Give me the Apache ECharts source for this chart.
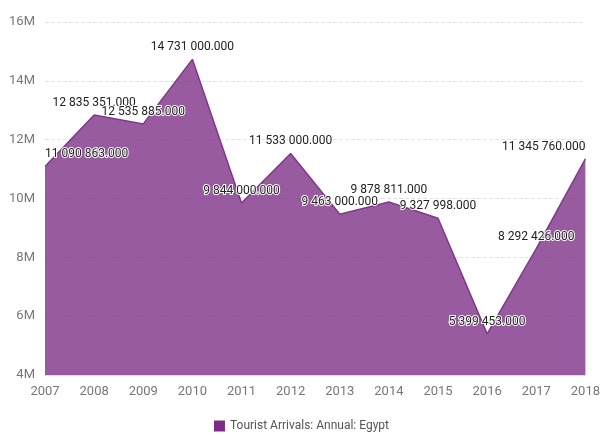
<!DOCTYPE html>
<html>
<head>
<meta charset="utf-8">
<script src="https://cdn.jsdelivr.net/npm/echarts@6/dist/echarts.min.js"></script>
<style>
  html, body { margin: 0; padding: 0; background: #fff; }
  #main { width: 603px; height: 437px; }
</style>
</head>
<body>
<div id="main"></div>
<script>
// Tourist arrivals, Egypt
var years = ['2007', '2008', '2009', '2010', '2011', '2012', '2013', '2014', '2015', '2016', '2017', '2018'];
var arrivals = [11090863, 12835351, 12535885, 14731000, 9844000, 11533000, 9463000, 9878811, 9327998, 5399453, 8292426, 11345760];
var seriesName = 'Tourist Arrivals: Annual: Egypt';

var font = 'Roboto, sans-serif';

function fmtValue(v) {
    var s = Math.round(v).toString();
    s = s.replace(/\B(?=(\d{3})+(?!\d))/g, ' ');
    return s + '.000';
}

// first and last labels are pushed inside the plot
var seriesData = arrivals.map(function (v, i) {
    var item = { value: v };
    if (i === 0) {
        item.label = { align: 'left', offset: [-4, 0] };
    } else if (i === arrivals.length - 1) {
        item.label = { align: 'right', offset: [10, 0] };
    }
    return item;
});

var myChart = echarts.init(document.getElementById('main'));

var option = {
    animation: false,
    grid: {
        left: 45,
        right: 10,
        top: 22,
        bottom: 62
    },
    legend: {
        bottom: 0,
        left: 'center',
        itemWidth: 11,
        itemHeight: 11,
        itemGap: 5,
        icon: 'rect',
        textStyle: {
            color: '#555',
            fontFamily: font,
            fontSize: 12
        },
        data: [{ name: seriesName, itemStyle: { color: '#7b2d85', opacity: 1 } }]
    },
    xAxis: {
        type: 'category',
        boundaryGap: false,
        data: years,
        axisLine: { show: true, lineStyle: { color: '#ddd' } },
        axisTick: { show: false },
        axisLabel: {
            color: '#777',
            fontFamily: font,
            fontSize: 13,
            margin: 10
        }
    },
    yAxis: {
        type: 'value',
        min: 4000000,
        max: 16000000,
        interval: 2000000,
        axisLine: { show: false },
        axisTick: { show: false },
        axisLabel: {
            color: '#777',
            fontFamily: font,
            fontSize: 13,
            margin: 10,
            formatter: function (v) { return (v / 1000000) + 'M'; }
        },
        splitLine: {
            show: true,
            lineStyle: { color: '#e3e3e3', type: 'dashed' }
        }
    },
    series: [
        {
            name: seriesName,
            type: 'line',
            data: seriesData,
            symbol: 'circle',
            symbolSize: 0.01,
            showSymbol: true,
            z: 1,
            itemStyle: { color: '#7b2d85' },
            lineStyle: { color: '#7e3a88', width: 1.5 },
            areaStyle: { color: '#7b2d85', opacity: 0.78 },
            labelLayout: { hideOverlap: false },
            label: {
                show: true,
                position: 'top',
                distance: 6,
                color: '#222',
                fontFamily: font,
                fontSize: 12,
                textBorderColor: '#fff',
                textBorderWidth: 2,
                formatter: function (p) { return fmtValue(p.value); }
            }
        }
    ]
};

myChart.setOption(option);
</script>
</body>
</html>
